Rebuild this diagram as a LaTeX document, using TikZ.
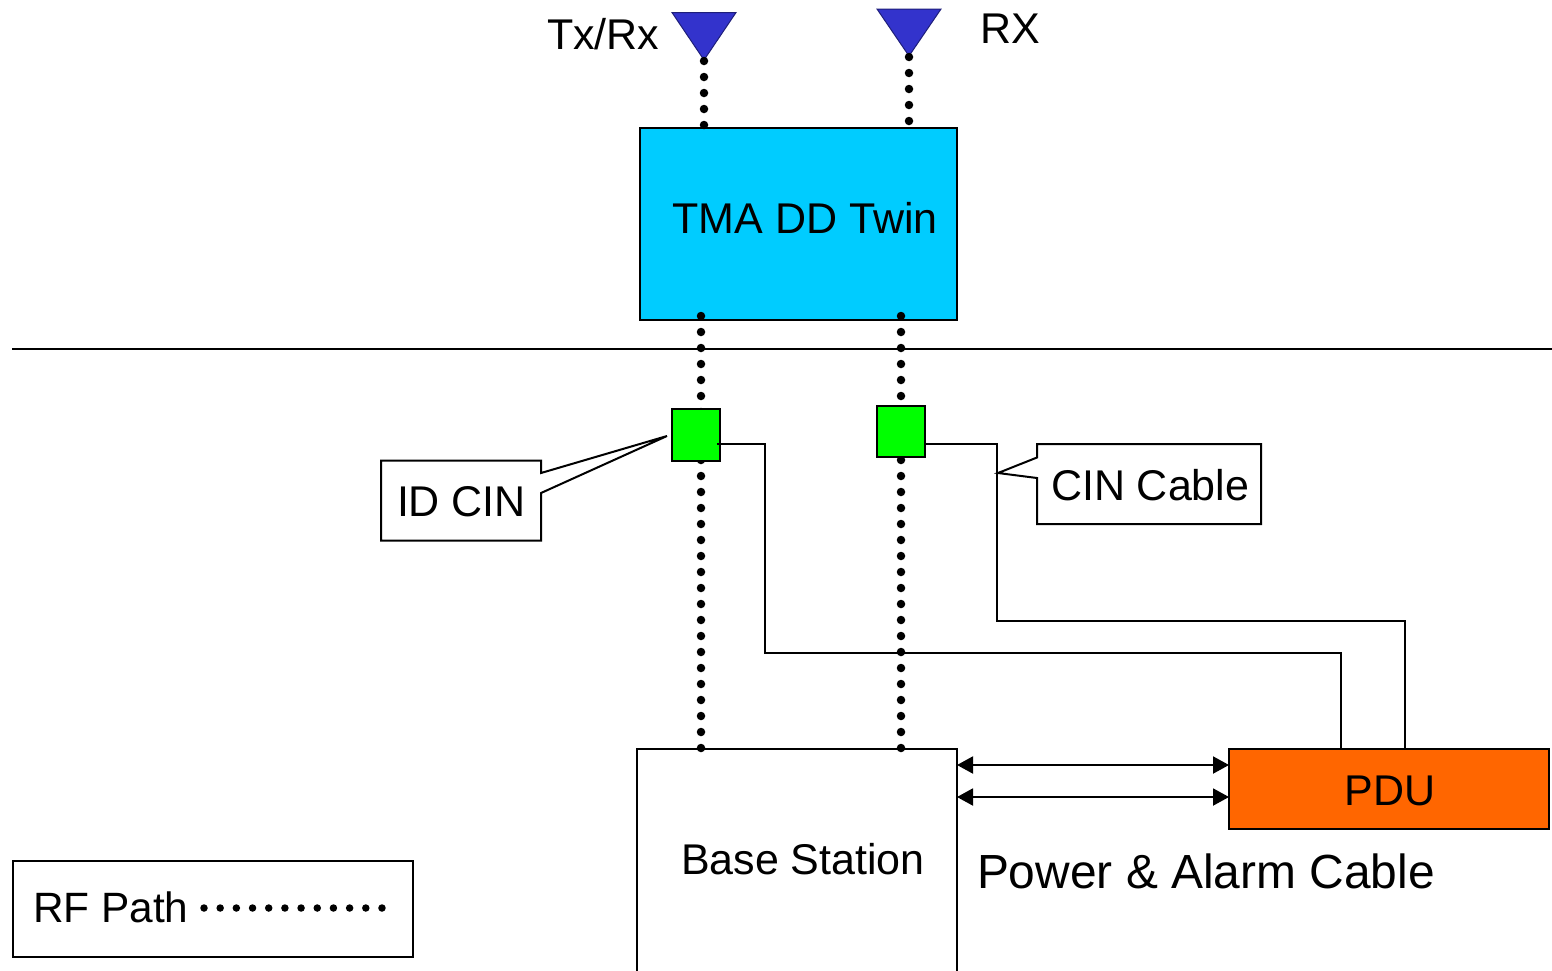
\documentclass[tikz,border=0pt]{standalone}
\usepackage{fontspec}
\setmainfont{Liberation Sans}
\usetikzlibrary{arrows.meta}
\definecolor{tmablue}{HTML}{00CCFF}
\definecolor{antblue}{HTML}{3333CC}
\definecolor{cingreen}{HTML}{00FF00}
\definecolor{pduorange}{HTML}{FF6600}
% text placed relative to the centre of its node: dx, dy (up), text
\newcommand{\placedtext}[3]{\smash{\makebox[0pt][l]{\hspace*{#1}\raisebox{#2}{#3}}}}
\tikzset{
  x=1pt,y=-1pt,
  every node/.style={inner sep=0pt,outer sep=0pt},
  wire/.style={line width=2pt,black},
  boxed/.style={draw=black,line width=2pt,rectangle},
  rfpath/.style={line width=8.5pt,line cap=round,dash pattern=on 0pt off 16pt,black},
  legenddots/.style={line width=7.5pt,line cap=round,dash pattern=on 0pt off 16.18pt,black},
  antenna/.style={fill=antblue,draw=antblue!60!black,line width=1pt},
  biarrow/.style={line width=2pt,{Triangle[length=16pt,width=17pt]}-{Triangle[length=16pt,width=17pt]}},
  txt/.style={font=\fontsize{43}{43}\selectfont},
  smalltxt/.style={font=\fontsize{42.4}{43}\selectfont},
  bigtxt/.style={font=\fontsize{47.9}{48}\selectfont},
}
\begin{document}
\begin{tikzpicture}
\useasboundingbox (0,0) rectangle (1552,970);
\clip (0,0) rectangle (1552,970);

% antennas
\coordinate (txTip) at (704,60);
\coordinate (rxTip) at (909,56);
\path[antenna] (672,12.5) -- (736,12.5) -- (txTip) -- cycle;
\path[antenna] (877,9) -- (941,9) -- (rxTip) -- cycle;
\node[txt,anchor=base west] (txLabel) at (547,49.5) {Tx/Rx};
\node[txt,anchor=base west] (rxLabel) at (980.5,43) {RX};

% main boxes
\node[boxed,fill=tmablue,minimum width=317pt,minimum height=192pt,txt] (tma) at (798.5,224)
  {\placedtext{-126pt}{-9.5pt}{TMA DD Twin}};
\node[boxed,fill=white,minimum width=320pt,minimum height=232pt,txt] (base) at (797,865)
  {\placedtext{-116pt}{-9.5pt}{Base Station}};
\node[boxed,fill=pduorange,minimum width=320pt,minimum height=80pt,txt] (pdu) at (1389,788.5)
  {\placedtext{-44.5pt}{-16.5pt}{PDU}};
\node[boxed,minimum width=400pt,minimum height=96pt,smalltxt] (legend) at (213,909)
  {\placedtext{-180pt}{-13.5pt}{RF Path}};

% horizon line
\coordinate (horizonL) at (12,348.5);
\coordinate (horizonR) at (1552,348.5);
\draw[line width=2pt] (horizonL) -- (horizonR);

% RF paths
\coordinate (tmaTopA) at (704,125.6);
\coordinate (tmaTopB) at (909,122.6);
\coordinate (tmaBotA) at (701,316);
\coordinate (tmaBotB) at (901,316);
\coordinate (baseTopA) at (701,748.6);
\coordinate (baseTopB) at (901,748.6);
\draw[rfpath] (txTip) ++(0,1) -- (tmaTopA);
\draw[rfpath] (rxTip) ++(0,1) -- (tmaTopB);
\draw[rfpath] (tmaBotA) -- (baseTopA);
\draw[rfpath] (tmaBotB) -- (baseTopB);

% CIN boxes and cables
\draw[wire] (717,444) -- (765,444) -- (765,653) -- (1341,653) -- (1341,749);
\draw[wire] (925,444) -- (997,444) -- (997,621) -- (1405,621) -- (1405,749);
\node[boxed,fill=cingreen,minimum width=48pt,minimum height=52pt] (cinA) at (696,435) {};
\node[boxed,fill=cingreen,minimum width=48pt,minimum height=51pt] (cinB) at (901,431.5) {};
\coordinate (cinAstub) at (717,444);
\draw[wire] (cinAstub) -- (cinA.east |- cinAstub);

% callouts
\coordinate (idTip) at (667,436);
\coordinate (cableTip) at (998,473);
\draw[line width=2pt,fill=white,line join=miter] (381,460.5) -- (541,460.5) -- (541,473) -- (idTip) -- (541,493) -- (541,540.5) -- (381,540.5) -- cycle;
\draw[line width=2pt,fill=white,line join=miter] (1037,444) -- (1261,444) -- (1261,524) -- (1037,524) -- (1037,478) -- (cableTip) -- (1037,457.5) -- cycle;
\node[txt,minimum width=160pt,minimum height=80pt] (idcin) at (461,500.5)
  {\placedtext{-64pt}{-15.5pt}{ID CIN}};
\node[txt,minimum width=224pt,minimum height=80pt] (cincable) at (1149,484)
  {\placedtext{-98pt}{-16pt}{CIN Cable}};

% power & alarm cables
\coordinate (baseA) at (base.north east |- 0,765);
\coordinate (baseB) at (base.north east |- 0,797);
\coordinate (pduA) at (pdu.west |- 0,765);
\coordinate (pduB) at (pdu.west |- 0,797);
\draw[biarrow] (baseA) -- (pduA);
\draw[biarrow] (baseB) -- (pduB);
\node[bigtxt,anchor=base west] (powerLabel) at (977,888) {Power \& Alarm Cable};

% legend dots
\coordinate (legA) at (204,908);
\coordinate (legB) at (382.2,908);
\draw[legenddots] (legA) -- (legB);
\end{tikzpicture}
\end{document}
